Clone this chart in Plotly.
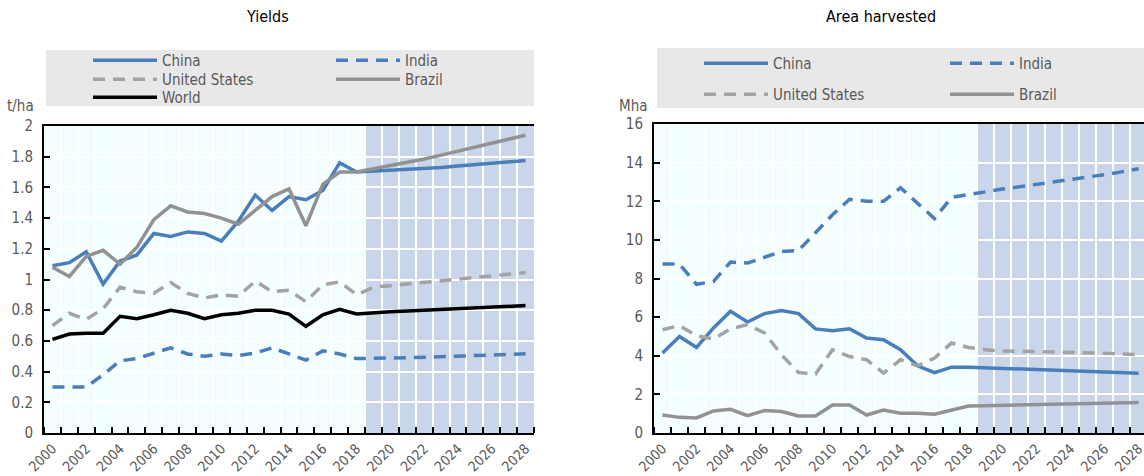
import plotly.graph_objects as go

years = list(range(2000, 2029))
tick_years = list(range(2000, 2029, 2))

# Yields (t/ha)
y_china = [1.09, 1.11, 1.18, 0.97, 1.12, 1.16, 1.30, 1.28, 1.31, 1.30, 1.25, 1.38, 1.55, 1.45, 1.54,
           1.52, 1.58, 1.76, 1.70, 1.705, 1.71, 1.715, 1.72, 1.73, 1.74, 1.75, 1.76, 1.765, 1.775]
y_india = [0.30, 0.30, 0.30, 0.38, 0.47, 0.485, 0.52, 0.555, 0.515, 0.50, 0.515, 0.505, 0.52, 0.555, 0.515,
           0.475, 0.535, 0.515, 0.485, 0.485, 0.488, 0.49, 0.493, 0.496, 0.50, 0.504, 0.508, 0.512, 0.517]
y_us = [0.70, 0.78, 0.74, 0.81, 0.95, 0.92, 0.91, 0.98, 0.91, 0.88, 0.90, 0.89, 0.99, 0.92, 0.93,
        0.855, 0.965, 0.985, 0.90, 0.95, 0.96, 0.97, 0.98, 0.99, 1.00, 1.01, 1.02, 1.03, 1.045]
y_brazil = [1.08, 1.02, 1.15, 1.19, 1.10, 1.21, 1.39, 1.48, 1.44, 1.43, 1.40, 1.36, 1.45, 1.54, 1.59,
            1.35, 1.62, 1.70, 1.70, 1.72, 1.74, 1.76, 1.785, 1.81, 1.835, 1.86, 1.885, 1.91, 1.94]
y_world = [0.61, 0.645, 0.65, 0.65, 0.76, 0.745, 0.77, 0.80, 0.78, 0.745, 0.77, 0.78, 0.80, 0.80, 0.775,
           0.695, 0.77, 0.805, 0.775, 0.785, 0.79, 0.795, 0.80, 0.805, 0.81, 0.815, 0.82, 0.825, 0.83]

# Area harvested (Mha)
a_china = [4.14, 5.0, 4.43, 5.44, 6.3, 5.75, 6.18, 6.34, 6.18, 5.39, 5.3, 5.4, 4.92, 4.83, 4.31,
           3.48, 3.13, 3.41, 3.41, 3.38, 3.34, 3.30, 3.27, 3.24, 3.21, 3.18, 3.15, 3.12, 3.09]
a_india = [8.75, 8.75, 7.7, 7.85, 8.85, 8.8, 9.1, 9.4, 9.45, 10.35, 11.3, 12.1, 12.0, 12.0, 12.7,
           11.9, 11.1, 12.2, 12.35, 12.5, 12.63, 12.75, 12.87, 13.0, 13.12, 13.25, 13.38, 13.52, 13.68]
a_us = [5.35, 5.56, 5.04, 4.87, 5.39, 5.61, 5.18, 4.05, 3.13, 3.05, 4.31, 3.96, 3.8, 3.1, 3.79,
        3.48, 3.88, 4.66, 4.43, 4.31, 4.25, 4.25, 4.22, 4.2, 4.18, 4.15, 4.12, 4.1, 4.05]
a_brazil = [0.93, 0.81, 0.78, 1.14, 1.23, 0.9, 1.16, 1.11, 0.88, 0.88, 1.45, 1.45, 0.93, 1.19, 1.02,
            1.02, 0.97, 1.19, 1.40, 1.41, 1.43, 1.44, 1.46, 1.48, 1.50, 1.52, 1.54, 1.56, 1.58]

BLUE = "#4A7EBB"
GRAY_D = "#A3A3A3"
GRAY_S = "#929292"
BLACK = "#000000"
FONT = "Liberation Sans Narrow, Arial Narrow, DejaVu Sans Condensed, sans-serif"
TXT = "#595959"
LW = 3.5
DASH = "12px,8px"
FS = 15

W, H = 1144, 476
def px(x): return x / W
def py(y): return (H - y) / H

fig = go.Figure()

def add(x, y, name, color, dash, xa, ya, legend):
    fig.add_trace(go.Scatter(x=x, y=y, name=name, mode="lines",
                             line=dict(color=color, width=LW, dash=dash),
                             xaxis=xa, yaxis=ya, legend=legend, hoverinfo="skip"))

add(years, y_china, "China", BLUE, "solid", "x", "y", "legend")
add(years, y_india, "India", BLUE, DASH, "x", "y", "legend")
add(years, y_us, "United States", GRAY_D, DASH, "x", "y", "legend4")
add(years, y_brazil, "Brazil", GRAY_S, "solid", "x", "y", "legend4")
add(years, y_world, "World", BLACK, "solid", "x", "y", "legend5")

add(years, a_china, "China", BLUE, "solid", "x2", "y2", "legend2")
add(years, a_india, "India", BLUE, DASH, "x2", "y2", "legend2")
add(years, a_us, "United States", GRAY_D, DASH, "x2", "y2", "legend3")
add(years, a_brazil, "Brazil", GRAY_S, "solid", "x2", "y2", "legend3")

def xaxis(domain, anchor, rng):
    return dict(domain=domain, anchor=anchor, range=rng, tickmode="array",
                tickvals=tick_years, ticktext=[str(t) for t in tick_years],
                tickangle=-45, ticks="", showgrid=False, zeroline=False,
                showline=True, linecolor="black", linewidth=2, mirror=True,
                ticklabeloverflow="allow",
                tickfont=dict(family=FONT, size=14, color=TXT),
                minor=dict(tick0=1999.5, dtick=1, ticks="inside", ticklen=6,
                           tickcolor="black", tickwidth=1.5,
                           showgrid=True, gridcolor="white", gridwidth=2))

def yaxis(domain, anchor, rng, dtick):
    return dict(domain=domain, anchor=anchor, range=rng, dtick=dtick,
                ticks="inside", ticklen=6, tickcolor="black", tickwidth=1.5,
                showgrid=True, gridcolor="white", gridwidth=2, zeroline=False,
                showline=True, linecolor="black", linewidth=2,
                ticklabelstandoff=6,
                tickfont=dict(family=FONT, size=FS, color=TXT))

legend_common = dict(orientation="h", bgcolor="rgba(0,0,0,0)", entrywidthmode="pixels",
                     font=dict(family=FONT, size=FS, color=TXT), xanchor="left", yanchor="top",
                     itemwidth=64, traceorder="normal")

fig.update_layout(
    width=W, height=H, margin=dict(l=0, r=0, t=0, b=0, autoexpand=False),
    paper_bgcolor="white", plot_bgcolor="#F3FEFF",
    showlegend=True, hovermode=False,
    xaxis=xaxis([px(44), px(534)], "y", [1999.5, 2028.5]),
    yaxis=yaxis([py(433), py(126)], "x", [0, 2], 0.2),
    xaxis2=xaxis([px(654), 1.0], "y2", [1999.5, 2028.32]),
    yaxis2=yaxis([py(433), py(124)], "x2", [0, 16], 2),
    legend=dict(legend_common, x=px(88), y=py(44), entrywidth=164),
    legend4=dict(legend_common, x=px(88), y=py(63), entrywidth=164),
    legend5=dict(legend_common, x=px(88), y=py(81), entrywidth=164),
    legend2=dict(legend_common, x=px(699), y=py(47), entrywidth=167),
    legend3=dict(legend_common, x=px(699), y=py(78), entrywidth=167),
    shapes=[
        dict(type="rect", xref="x", yref="y domain", x0=2018.5, x1=2028.5, y0=0, y1=1,
             fillcolor="#C9D6EA", line=dict(width=0), layer="below"),
        dict(type="rect", xref="x2", yref="y2 domain", x0=2018.5, x1=2028.5, y0=0, y1=1,
             fillcolor="#C9D6EA", line=dict(width=0), layer="below"),
        dict(type="rect", xref="paper", yref="paper", x0=px(46), x1=px(534), y0=py(106), y1=py(50),
             fillcolor="#E8E8E8", line=dict(width=0), layer="below"),
        dict(type="rect", xref="paper", yref="paper", x0=px(657), x1=1.0, y0=py(108), y1=py(48),
             fillcolor="#E8E8E8", line=dict(width=0), layer="below"),
    ],
    annotations=[
        dict(text="Yields", x=px(267), y=py(17), xref="paper", yref="paper", showarrow=False,
             font=dict(family=FONT, size=16, color="black"), xanchor="center", yanchor="middle"),
        dict(text="Area harvested", x=px(881), y=py(17), xref="paper", yref="paper", showarrow=False,
             font=dict(family=FONT, size=16, color="black"), xanchor="center", yanchor="middle"),
        dict(text="t/ha", x=px(36), y=py(106), xref="paper", yref="paper", showarrow=False,
             font=dict(family=FONT, size=FS, color=TXT), xanchor="right", yanchor="middle"),
        dict(text="Mha", x=px(649), y=py(106), xref="paper", yref="paper", showarrow=False,
             font=dict(family=FONT, size=FS, color=TXT), xanchor="right", yanchor="middle"),
    ],
)

fig.write_html("out.html", config={"displayModeBar": False},
               post_script="document.body.style.margin='0';")
